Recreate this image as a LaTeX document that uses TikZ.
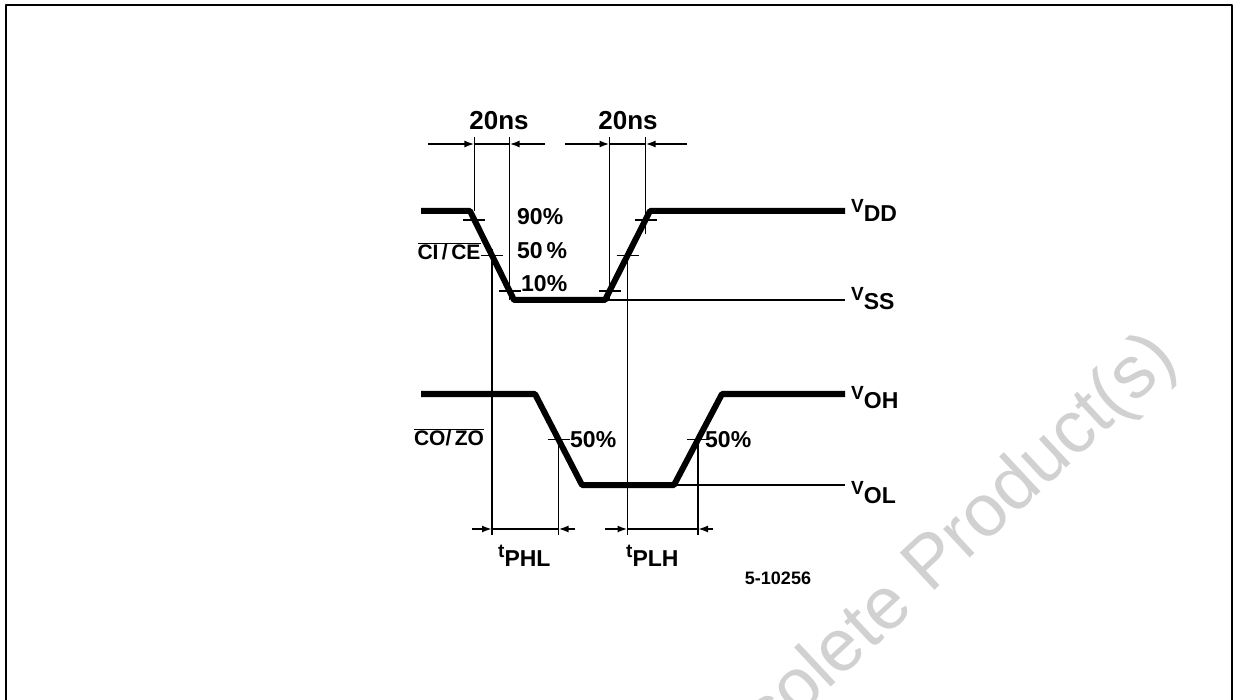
\documentclass[tikz,border=0pt]{standalone}
\usepackage{fontspec}
\setmainfont{Liberation Sans}
\usetikzlibrary{calc,arrows.meta}

\newcommand{\levlab}[2]{\raisebox{9pt}{\fontsize{19}{19}\selectfont #1}#2}

\begin{document}
\begin{tikzpicture}[
    x = 1pt, y = -1pt,
    line join=round,
    >={Latex[length=10pt,width=7pt]},
    sigline/.style = {line width=6pt},
    guide/.style = {line width=1.4pt},
    dimline/.style = {line width=1.8pt},
    lbl/.style = {inner sep=0pt, font=\bfseries\fontsize{23}{23}\selectfont}
]
    \useasboundingbox (0,0) rectangle (1234,700);
    \clip (0,0) rectangle (1234,700);

    % frame
    \draw[line width=2.5pt] (6,710) -- (6,5) -- (1232,5) -- (1232,710);

    % watermark
    \node[rotate=43, anchor=base east, text=black!18, inner sep=0pt,
          font=\fontsize{74}{74}\selectfont] (wm) at (1180,362) {Obsolete Product(s)};

    % input CI/CE
    \coordinate (a0) at (421,211);
    \coordinate (a1) at (470,211);
    \coordinate (a2) at (514,300);
    \coordinate (a3) at (605,300);
    \coordinate (a4) at (650,211);
    \coordinate (a5) at (845,211);
    \coordinate (vss) at (845,300);

    % output CO/ZO
    \coordinate (b0) at (421,394);
    \coordinate (b1) at (535,394);
    \coordinate (b2) at (582,485);
    \coordinate (b3) at (674,485);
    \coordinate (b4) at (722,394);
    \coordinate (b5) at (845,394);
    \coordinate (vol) at (845,485);

    % crossing points
    \coordinate (f90) at ($(a1)!0.1!(a2)$);
    \coordinate (f50) at ($(a1)!0.5!(a2)$);
    \coordinate (f10) at ($(a1)!0.9!(a2)$);
    \coordinate (r10) at ($(a3)!0.1!(a4)$);
    \coordinate (r50) at ($(a3)!0.5!(a4)$);
    \coordinate (r90) at ($(a3)!0.9!(a4)$);
    \coordinate (g50) at ($(b1)!0.5!(b2)$);
    \coordinate (h50) at ($(b3)!0.5!(b4)$);

    \draw[guide] (a3) -- (vss);
    \draw[guide] (b3) -- (vol);
    \draw[sigline] (a0) -- (a1) -- (a2) -- (a3) -- (a4) -- (a5);
    \draw[sigline] (b0) -- (b1) -- (b2) -- (b3) -- (b4) -- (b5);

    % ticks
    \foreach \p in {f90,f50,f10,r10,r50,r90,g50,h50}
        \draw[guide] ($(\p)+(-11,0)$) -- ($(\p)+(11,0)$);

    % extension lines
    \draw[guide] (f90 |- 0,137) -- (f90 |- a1);
    \draw[guide] (f10 |- 0,137) -- (f10 |- a2);
    \draw[guide] (r10 |- 0,137) -- (r10 |- a3);
    \draw[guide] (r90 |- 0,137) -- ($(r90)+(0,14)$);
    \draw[guide] ($(f50)+(0,-6)$) -- (f50 |- 0,535);
    \draw[guide] ($(r50)+(0,-6)$) -- (r50 |- 0,535);
    \draw[guide] ($(g50)+(0,-6)$) -- (g50 |- 0,535);
    \draw[guide] ($(h50)+(0,-6)$) -- (h50 |- 0,535);

    % 20ns dimensions
    \coordinate (d1) at (428,144);
    \coordinate (d2) at (545,144);
    \coordinate (d3) at (565,144);
    \coordinate (d4) at (687,144);
    \draw[dimline] (d1 -| f90) -- (d2 -| f10);
    \draw[dimline,->] (d1) -- (d1 -| f90);
    \draw[dimline,->] (d2) -- (d2 -| f10);
    \draw[dimline] (d3 -| r10) -- (d4 -| r90);
    \draw[dimline,->] (d3) -- (d3 -| r10);
    \draw[dimline,->] (d4) -- (d4 -| r90);

    % propagation delay dimensions
    \coordinate (e1) at (472,529);
    \coordinate (e2) at (575,529);
    \coordinate (e3) at (605,529);
    \coordinate (e4) at (713,529);
    \draw[dimline] (e1 -| f50) -- (e2 -| g50);
    \draw[dimline,->] (e1) -- (e1 -| f50);
    \draw[dimline,->] (e2) -- (e2 -| g50);
    \draw[dimline] (e3 -| r50) -- (e4 -| h50);
    \draw[dimline,->] (e3) -- (e3 -| r50);
    \draw[dimline,->] (e4) -- (e4 -| h50);

    % labels
    \node[lbl, font=\bfseries\fontsize{26}{26}\selectfont] (ns1) at (499,121) {20ns};
    \node[lbl, font=\bfseries\fontsize{26}{26}\selectfont] (ns2) at (628,121) {20ns};
    \node[lbl, anchor=west] (p90) at (517,217) {90\%};
    \node[lbl, anchor=west] (p50) at (517,251) {50\,\%};
    \node[lbl, anchor=west] (p10) at (521,284) {10\%};
    \node[lbl, anchor=west] (q50) at (570,440) {50\%};
    \node[lbl, anchor=west] (s50) at (705,440) {50\%};

    \node[lbl, font=\bfseries\fontsize{21}{21}\selectfont] (ci) at (449,251) {$\overline{\hbox{CI\,/\,CE}}$};
    \node[lbl, font=\bfseries\fontsize{21}{21}\selectfont] (co) at (449,437) {$\overline{\hbox{CO/\,ZO}}$};

    \node[lbl, anchor=base west] (vdd) at (851,222) {\levlab{V}{DD}};
    \node[lbl, anchor=base west] (vssl) at (851,310) {\levlab{V}{SS}};
    \node[lbl, anchor=base west] (voh) at (851,408) {\levlab{V}{OH}};
    \node[lbl, anchor=base west] (voll) at (851,503) {\levlab{V}{OL}};

    \node[lbl, anchor=base west] (tphl) at (498,566) {\levlab{t}{PHL}};
    \node[lbl, anchor=base west] (tplh) at (626,566) {\levlab{t}{PLH}};

    \node[lbl, font=\bfseries\fontsize{18}{18}\selectfont] (fig) at (778,578) {5-10256};
\end{tikzpicture}
\end{document}
